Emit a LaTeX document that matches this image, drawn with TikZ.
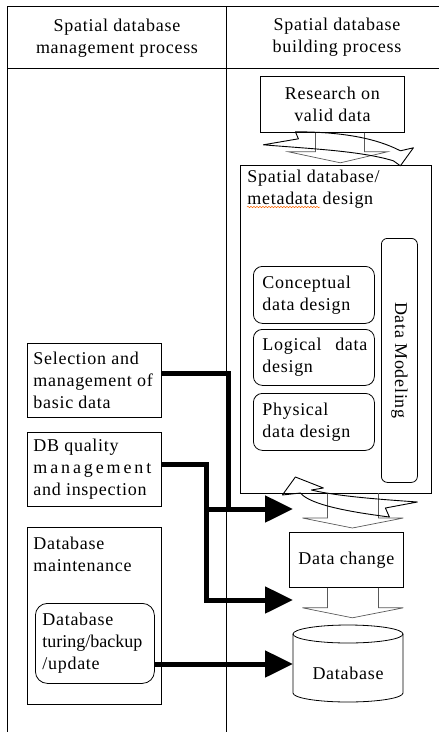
\documentclass[tikz,border=0pt]{standalone}
\usepackage{fontspec}
\setmainfont{Liberation Serif}[LetterSpace=4.0]
\usetikzlibrary{arrows.meta,decorations.pathmorphing}

\begin{document}
\begin{tikzpicture}[x=1pt, y=-1pt,
	line width=0.8pt,
	txt/.style={align=left, inner sep=0pt, font=\fontsize{18}{22}\selectfont},
	box/.style={draw, inner sep=0pt, anchor=north west},
	rbox/.style={box, rounded corners=9pt},
	hollow/.style={draw=gray!70!black, line width=0.7pt},
	bolt/.style={draw=black, line width=0.9pt, line join=round},
	fat/.style={line width=5pt, line join=miter, -{Triangle[length=28pt,width=26pt]}}]
	\useasboundingbox (0,0) rectangle (439,732);
	% table
	\draw (7,732) -- (7,6) -- (439,6);
	\draw (7,68) -- (439,68);
	\draw (226,6) -- (226,732);
	\node[txt, align=center] (headl) at (117,38) {Spatial database\\management process};
	\node[txt, align=center] (headr) at (337,37) {Spatial database\\building process};
	% building process
	\node[box, minimum width=144pt, minimum height=56pt] (research) at (260,76) {};
	\node[txt, align=center] (researchtxt) at (research.center) {Research on\\valid data};
	\node[box, minimum width=191pt, minimum height=328pt] (design) at (240,165) {};
	\node[txt, anchor=north west] (designtxt) at (247,170) {Spatial database/\\metadata design};
	\draw[orange!80!red, line width=0.5pt, decorate, decoration={snake, amplitude=0.7pt, segment length=3pt}] (247,207) -- (320,207);
	\node[rbox, rounded corners=6pt, minimum width=36pt, minimum height=244pt] (model) at (381,238) {};
	\node[txt, rotate=-90] (modeltxt) at (model.center) {Data Modeling};
	\node[rbox, minimum width=121pt, minimum height=57pt] (concept) at (253,266) {};
	\node[txt, anchor=west] (concepttxt) at ([xshift=9pt]concept.west) {Conceptual\\data design};
	\node[rbox, minimum width=121pt, minimum height=56pt] (logic) at (253,329) {};
	\node[txt, anchor=west, text width=105pt] (logictxt) at ([xshift=9pt]logic.west) {Logical\hfill data\\design};
	\node[rbox, minimum width=121pt, minimum height=57pt] (phys) at (253,393) {};
	\node[txt, anchor=west] (phystxt) at ([xshift=9pt]phys.west) {Physical\\data design};
	\node[box, minimum width=114pt, minimum height=55pt] (change) at (289,532) {};
	\node[txt] (changetxt) at (change.center) {Data change};
	% database drum
	\node[inner sep=0pt, minimum width=110pt, minimum height=77pt] (db) at (348,663.5) {};
	\draw (293,634) -- (293,693) arc[start angle=180, end angle=0, x radius=55, y radius=9] -- (403,634);
	\draw (348,634) ellipse [x radius=55, y radius=9];
	\node[txt] (dbtxt) at (348,673) {Database};
	% hollow arrows
	\begin{scope}[shift={(research.south)}]
		\draw[hollow] (-17,0) -- (-17,19) -- (-44,19) -- (8,30) -- (55,19) -- (32,19) -- (32,0);
		\draw[bolt] (-69,12) -- (-34,6) -- (-37,-1) .. controls (8,-1) and (43,5) .. (68,18)
			-- (81,15) -- (68,33) -- (61,28) .. controls (28,18) and (-22,16) .. cycle;
	\end{scope}
	\begin{scope}[shift={(change.north)}]
		\draw[hollow] (-19,-39) -- (-19,-14) -- (-44,-14) -- (6,-4) -- (57,-14) -- (32,-14) -- (32,-39);
		\draw[bolt] (-64,-37) -- (-51,-55) -- (-23,-44) -- (-35,-42) .. controls (-6,-35) and (44,-32) .. (71,-30)
			-- (39,-24) -- (43,-15) .. controls (4,-20) and (-36,-27) .. (-46,-39) -- cycle;
	\end{scope}
	\begin{scope}[shift={(change.south)}]
		\draw[hollow] (-19,0) -- (-19,20) -- (-44,20) -- (6,30) -- (57,20) -- (32,20) -- (32,0);
	\end{scope}
	% management process
	\node[box, minimum width=134pt, minimum height=74pt] (sel) at (27,343) {};
	\node[txt, anchor=west] (seltxt) at ([xshift=6pt]sel.west) {Selection and\\management of\\basic data};
	\node[box, minimum width=134pt, minimum height=74pt] (qual) at (27,432) {};
	\node[txt, anchor=west] (qualtxt) at ([xshift=6pt]qual.west) {DB quality\\{\addfontfeature{LetterSpace=16.0}management}\\and inspection};
	\node[box, minimum width=134pt, minimum height=177pt] (maint) at (27,527) {};
	\node[txt, anchor=north west] (mainttxt) at (33,537) {Database\\maintenance};
	\node[rbox, rounded corners=12pt, minimum width=119pt, minimum height=80pt] (tune) at (35,603) {};
	\node[txt, anchor=west] (tunetxt) at ([xshift=7pt]tune.west) {Database\\{\addfontfeature{LetterSpace=0.0}turing/backup}\\/update};
	% thick arrows
	\coordinate (j1) at (228,509);
	\coordinate (j2) at (206,509);
	\coordinate (t1) at (293,509);
	\coordinate (t2) at (293,600);
	\coordinate (t3) at (293,664);
	\draw[fat] ([yshift=7pt]sel.east) -| (j1) -- (t1);
	\draw[fat] ([yshift=5pt]qual.east) -| (t2 -| j2) -- (t2);
	\draw[line width=5pt] (j2) -- (j1);
	\draw[fat] (tune.east |- t3) -- (t3);
\end{tikzpicture}
\end{document}
